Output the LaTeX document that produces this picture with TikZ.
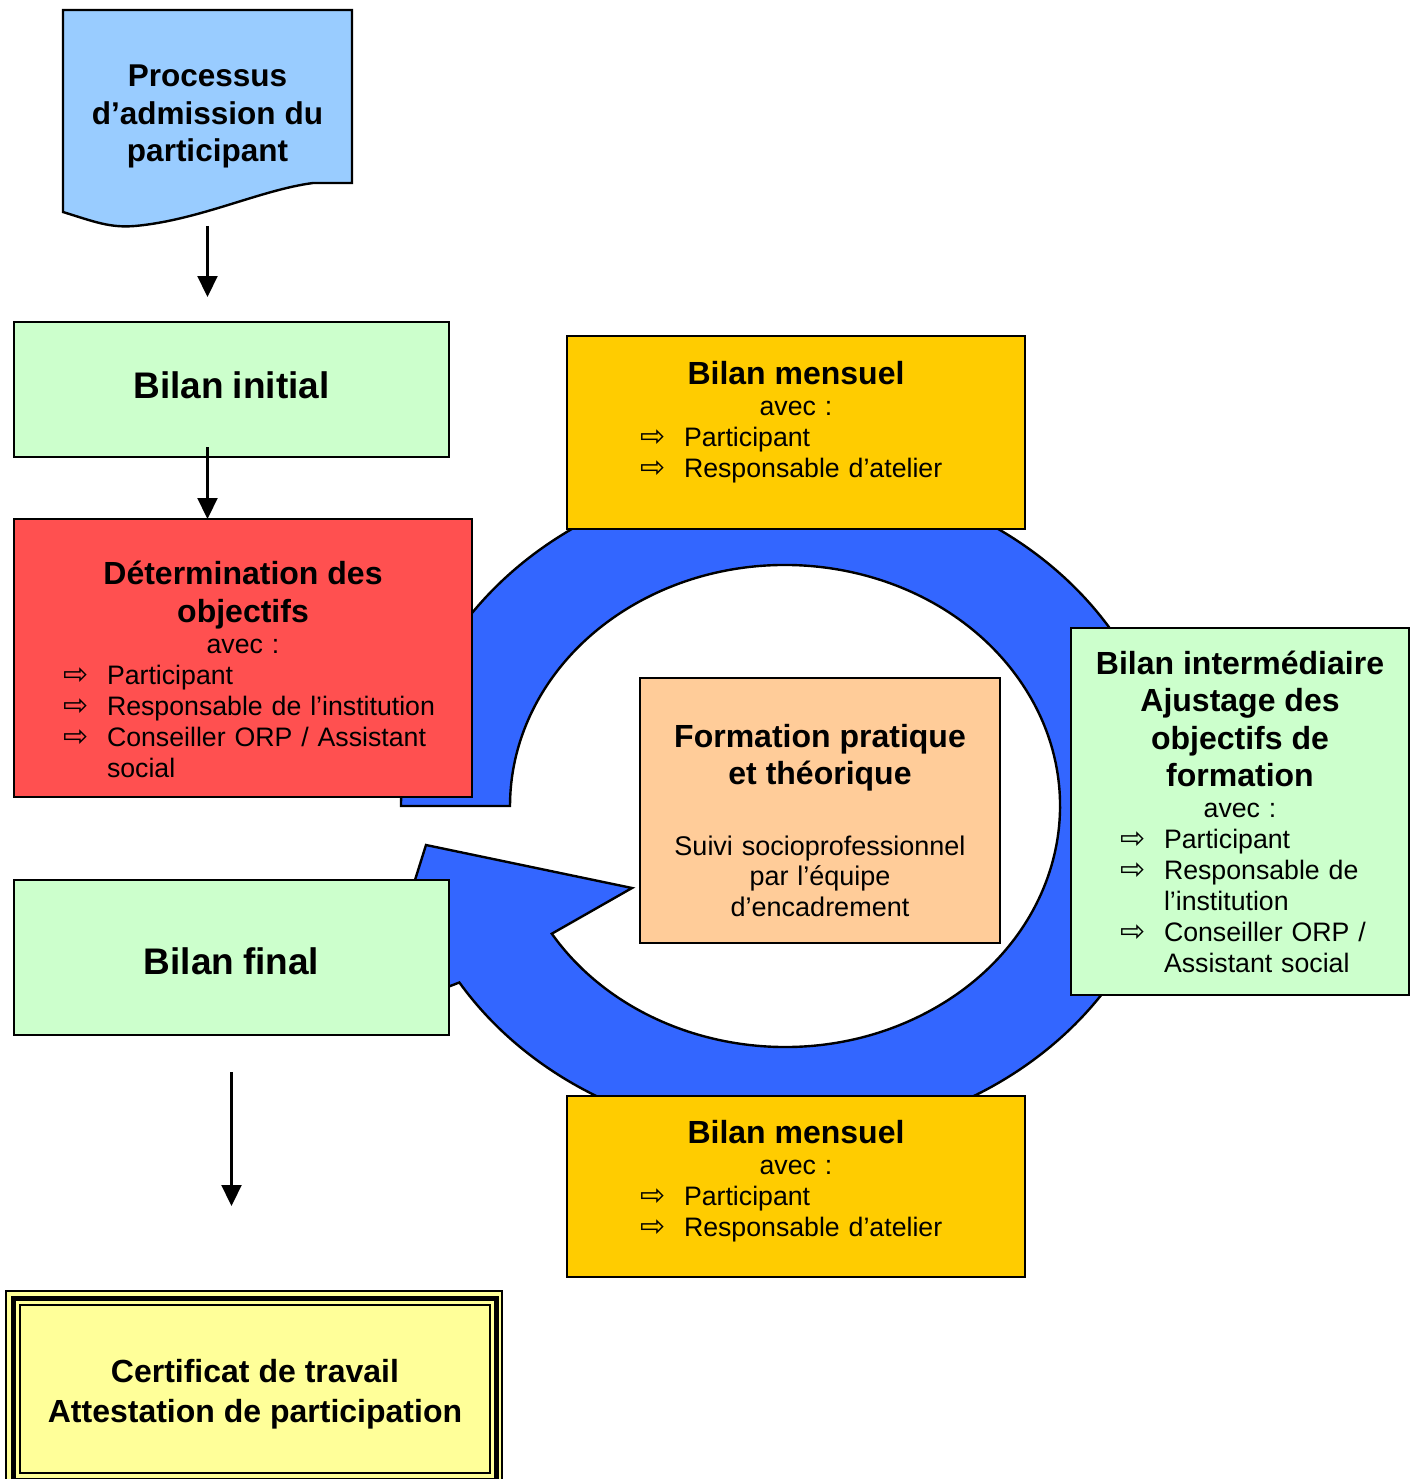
\documentclass[tikz,border=0pt]{standalone}
\usepackage{fontspec}
\setmainfont{Liberation Sans}
\newfontfamily\flechefont{DejaVu Sans}
\usetikzlibrary{arrows.meta}
\definecolor{bleuclair}{HTML}{99CCFF}
\definecolor{vertclair}{HTML}{CCFFCC}
\definecolor{rouge}{HTML}{FF5050}
\definecolor{orangejaune}{HTML}{FFCC00}
\definecolor{peche}{HTML}{FFCC99}
\definecolor{jauneclair}{HTML}{FFFF99}
\definecolor{bleu}{HTML}{3366FF}
\newlength{\retrait}
\newcommand{\fleche}{{\flechefont\fontsize{30}{30}\selectfont ⇨}}
\newcommand{\titre}{\bfseries\fontsize{32}{37.5}\selectfont}
\newcommand{\grand}{\bfseries\fontsize{37}{42}\selectfont}
\newcommand{\avec}[1]{{\fontsize{26.7}{#1}\selectfont avec :\par}}
\newcommand{\puce}[1]{\par\leftskip=\retrait\rightskip=0pt plus 1fil\parfillskip=0pt plus 1fil%
  \hangindent=44pt\hangafter=1\noindent\makebox[44pt][l]{\fleche}#1\par}

\begin{document}
\begin{tikzpicture}[x=1pt, y=-1pt,
  boite/.style={draw=black, line width=2.4pt, inner sep=0pt, outer sep=0pt,
    font=\fontsize{26.7}{31}\selectfont, execute at begin node=\centering},
  lien/.style={draw, line width=2.2pt, -{Triangle[width=20pt,length=21pt]}},
]
\useasboundingbox (0,0) rectangle (1417,1479);

\filldraw[fill=bleu, draw=black, line width=2.4pt] (401,806)
  arc[start angle=180, end angle=508, x radius=384, y radius=333]
  -- (440,990) -- (404,915) -- (426,845) -- (632,888) -- (551.8,933.7)
  arc[start angle=508, end angle=180, x radius=275, y radius=241] -- cycle;

\filldraw[fill=bleuclair, line width=2.4pt] (63,10) -- (352,10) -- (352,183) -- (313,183)
  .. controls (260,190) and (200,220) .. (135,226) .. controls (110,228) and (95,222) .. (63,212) -- cycle;
\node[boite, draw=none, text width=289pt, minimum height=216pt] (admission) at (207.5,118)
  {\par\vspace*{-18pt}{\bfseries\fontsize{31.5}{37.5}\selectfont Processus\\d’admission du\\participant\par}};

\node[boite, fill=vertclair, text width=435pt, minimum height=135pt] (binit) at (231.5,389.5)
  {\par\vspace*{-23pt}{\grand Bilan initial\par}};

\node[boite, fill=rouge, text width=458pt, minimum height=278pt] (objectifs) at (243,658)
  {\par\vspace*{9pt}{\titre Détermination des\\objectifs\par}\avec{31}\retrait=49pt
   \puce{Participant}\puce{Responsable de l’institution}\puce{Conseiller ORP / Assistant social}};

\node[boite, fill=vertclair, text width=435pt, minimum height=155pt] (bfinal) at (231.5,957.5)
  {\par\vspace*{-8pt}{\grand Bilan final\par}};

\node[boite, fill=orangejaune, text width=458pt, minimum height=193pt] (mensuelA) at (796,432.5)
  {\par\vspace*{-35pt}{\titre Bilan mensuel\par}\avec{31}\retrait=73pt
   \puce{Participant}\puce{Responsable d’atelier}};

\node[boite, fill=orangejaune, text width=458pt, minimum height=181pt] (mensuelB) at (796,1186.5)
  {\par\vspace*{-24pt}{\titre Bilan mensuel\par}\avec{31}\retrait=73pt
   \puce{Participant}\puce{Responsable d’atelier}};

\node[boite, fill=peche, text width=360pt, minimum height=265pt] (formation) at (820,810.5)
  {\par\vspace*{5pt}{\titre Formation pratique\\et théorique\par}\vspace*{40pt}
   {\fontsize{27}{30.5}\selectfont Suivi socioprofessionnel\\par l’équipe\\d’encadrement\par}};

\node[boite, fill=vertclair, text width=338pt, minimum height=367pt] (inter) at (1240,811.5)
  {\par\vspace*{-13pt}{\titre Bilan intermédiaire\\Ajustage des\\objectifs de\\formation\par}\avec{31}\retrait=49pt
   \puce{Participant}\puce{Responsable de l’institution}\puce{Conseiller ORP / Assistant social}};

\filldraw[fill=jauneclair, line width=2pt] (6,1291) rectangle (502,1486);
\draw[line width=5pt] (13,1298) rectangle (496,1480);
\node[boite, line width=2pt, fill=jauneclair, text width=470pt, minimum height=168pt] (cert) at (255,1389)
  {\par\vspace*{-6pt}{\bfseries\fontsize{32}{40}\selectfont Certificat de travail\\Attestation de participation\par}};

\draw[lien, shorten >=25pt] (admission.south) -- (binit.north -| admission.south);
\draw[lien, shorten <=-10pt] (binit.south -| admission.south) -- (objectifs.north -| admission.south);
\draw[lien, shorten <=37pt, shorten >=99pt] (bfinal.south) -- (bfinal.south |- cert.north);
\end{tikzpicture}
\end{document}
